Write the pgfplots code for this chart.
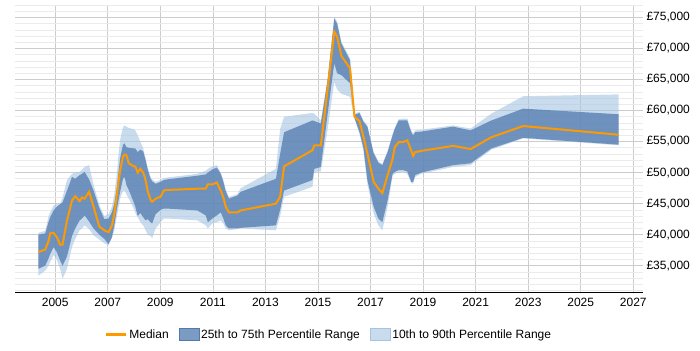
\documentclass[border=0pt]{standalone}
\usepackage{fontspec}
\setmainfont{Liberation Sans}
\usepackage{pgfplots}
\pgfplotsset{compat=1.18}
\usepackage{pgfplotstable}
\usepgfplotslibrary{fillbetween}
\definecolor{medc}{HTML}{FF9900}
\definecolor{darkb}{HTML}{4F7AAE}
\definecolor{lightb}{HTML}{A5C4E3}
\definecolor{majgrid}{HTML}{CCCCCC}
\definecolor{mingrid}{HTML}{EBEBEB}
\pgfplotstableread{
x p10 p25 med p75 p90
2004.36 33.4 34.5 37.2 40.0 40.3
2004.62 34.2 35.0 37.6 40.2 40.6
2004.75 35.0 36.2 39.0 42.1 43.0
2004.81 35.6 36.9 40.2 42.8 43.6
2004.94 36.7 38.0 40.3 43.9 44.7
2005.06 36.0 37.2 39.6 44.5 44.9
2005.19 34.5 35.8 38.4 44.9 45.0
2005.28 32.9 35.0 38.4 45.2 46.0
2005.45 34.5 36.5 42.3 47.1 48.8
2005.64 38.0 39.8 45.5 49.3 49.8
2005.76 39.3 41.0 46.2 49.0 50.0
2005.93 40.7 42.3 45.4 49.6 50.1
2006.02 41.0 42.6 46.0 49.8 50.5
2006.12 41.5 43.1 45.8 50.1 50.9
2006.29 40.9 42.1 46.9 48.9 51.2
2006.46 39.9 41.0 44.5 47.1 48.0
2006.68 39.2 40.0 41.3 44.3 44.8
2006.87 38.6 39.3 40.7 42.5 43.0
2007.03 38.3 38.5 40.4 42.6 43.3
2007.16 39.5 39.6 41.5 43.6 44.5
2007.25 40.7 41.5 43.4 45.0 46.5
2007.35 43.0 44.2 46.5 47.7 50.0
2007.42 44.5 45.8 48.8 50.5 53.5
2007.48 46.0 47.1 50.5 52.5 55.5
2007.58 47.0 49.0 52.6 54.5 57.3
2007.64 47.1 49.3 52.9 54.7 57.6
2007.71 46.5 48.0 52.8 54.1 57.4
2007.80 45.8 47.2 51.5 54.0 57.2
2007.99 44.2 45.2 51.0 53.9 57.0
2008.05 43.5 44.5 51.0 53.9 56.8
2008.14 42.8 43.0 50.0 53.3 56.0
2008.24 42.0 43.5 50.6 53.7 55.0
2008.35 41.5 42.8 50.0 53.4 53.9
2008.44 40.7 42.3 48.8 52.0 52.3
2008.52 40.0 42.5 47.0 50.5 50.8
2008.63 39.8 42.0 45.6 49.0 49.3
2008.69 39.4 41.8 45.3 48.6 48.9
2008.82 41.0 43.3 45.8 48.2 48.5
2009.01 42.0 44.0 46.1 48.5 48.8
2009.13 42.6 44.2 47.1 48.8 49.1
2009.26 42.6 44.2 47.2 48.9 49.2
2010.41 42.3 43.9 47.4 49.5 49.8
2010.73 41.5 43.1 47.4 49.7 50.3
2010.81 41.0 42.0 48.1 50.0 50.6
2010.98 41.8 42.6 48.1 50.5 51.0
2011.15 42.0 43.1 48.4 50.8 51.2
2011.30 42.3 43.6 47.1 49.8 50.0
2011.40 41.8 42.6 46.0 48.5 48.8
2011.49 41.0 41.5 44.5 47.0 47.3
2011.61 40.7 41.0 43.6 45.8 46.1
2011.93 40.9 41.0 43.6 46.3 46.5
2012.06 41.0 41.1 43.9 46.9 47.5
2013.40 40.7 41.5 45.0 49.0 50.6
2013.56 43.0 44.0 46.1 53.0 57.0
2013.71 46.1 47.1 51.0 56.5 59.0
2014.79 47.7 48.8 53.6 58.4 59.6
2014.86 50.1 50.6 54.4 58.3 59.5
2015.11 50.2 50.9 54.4 57.9 58.4
2015.37 57.0 59.5 63.6 65.0 65.3
2015.62 64.6 67.6 72.7 74.8 75.1
2015.73 63.4 66.0 71.9 74.0 74.3
2015.89 62.7 65.7 68.8 70.8 71.1
2016.22 62.2 64.4 66.8 68.1 68.4
2016.39 58.7 58.8 59.0 59.3 59.5
2016.58 56.3 56.5 58.3 59.6 59.8
2016.73 53.5 54.0 55.8 58.2 58.4
2016.88 48.2 48.8 53.1 57.4 57.6
2017.12 43.4 44.5 48.5 53.1 53.3
2017.30 41.5 42.6 47.4 51.6 51.8
2017.45 40.7 42.0 46.7 51.2 51.4
2017.65 44.5 45.5 49.6 53.3 53.5
2017.84 49.5 49.8 52.2 56.0 56.2
2017.92 49.8 50.1 54.1 57.0 57.2
2018.07 50.0 50.4 54.9 58.4 58.6
2018.23 50.1 50.4 54.9 58.4 58.7
2018.40 49.8 50.2 55.2 58.4 58.7
2018.55 48.3 48.5 53.5 56.5 56.8
2018.62 48.2 48.5 52.7 56.0 56.3
2018.70 49.3 49.6 53.3 56.5 56.8
2018.93 49.8 50.0 53.5 56.6 56.9
2020.14 50.9 51.2 54.3 57.4 57.6
2020.81 51.2 51.5 53.8 56.8 57.1
2021.60 53.7 53.9 55.7 58.4 59.5
2022.81 55.5 55.6 57.5 60.3 62.3
2026.44 54.4 54.5 56.1 59.4 62.6
}\data
\begin{document}
\begin{tikzpicture}[font=\fontsize{12}{14}\selectfont]
\begin{axis}[
  scale only axis, width=628pt, height=287pt,
  xmin=2003.47, xmax=2027.37, ymin=30.76, ymax=77,
  xtick={2005,2007,...,2027},
  ytick={35,40,...,75},
  minor ytick={31,32,...,77},
  grid=both,
  major grid style={majgrid, line width=0.6pt},
  minor grid style={mingrid, line width=0.6pt},
  axis line style={draw=none},
  major tick length=0pt, minor tick length=0pt,
  yticklabel pos=right,
  clip mode=individual,
  /pgf/number format/assume math mode=true,
  xticklabel style={/pgf/number format/1000 sep={}, yshift=-3pt},
  yticklabel={£\pgfmathprintnumber{\tick},000},
  legend style={at={(0.5,-0.148)}, anchor=center, draw=none, fill=none,
    legend columns=3, /tikz/every even column/.append style={column sep=8pt},
    font=\fontsize{12}{14}\selectfont},
  legend cell align=left,
]
\addlegendimage{legend image code/.code={\draw[medc, line width=2.5pt] (0pt,0pt) -- (20pt,0pt);}}
\addlegendentry{Median}
\addlegendimage{legend image code/.code={\fill[darkb, fill opacity=0.75] (0pt,-6pt) rectangle (20pt,6pt);}}
\addlegendentry{25th to 75th Percentile Range}
\addlegendimage{legend image code/.code={\fill[lightb, fill opacity=0.6] (0pt,-6pt) rectangle (20pt,6pt);}}
\addlegendentry{10th to 90th Percentile Range}

\addplot[draw=none, name path=p10, forget plot] table[x=x, y=p10] {\data};
\addplot[draw=none, name path=p25, forget plot] table[x=x, y=p25] {\data};
\addplot[draw=none, name path=p75, forget plot] table[x=x, y=p75] {\data};
\addplot[draw=none, name path=p90, forget plot] table[x=x, y=p90] {\data};
\addplot[fill=lightb, fill opacity=0.6, draw=none, forget plot] fill between[of=p90 and p10];
\addplot[fill=darkb, fill opacity=0.75, draw=none, forget plot] fill between[of=p75 and p25];
\addplot[medc, line width=2pt, forget plot] table[x=x, y=med] {\data};

\draw[black, line width=0.8pt] (rel axis cs:0,0) -- (rel axis cs:1,0);
\coordinate (SW) at (rel axis cs:0,0);
\coordinate (NE) at (rel axis cs:1,1);
\end{axis}
\pgfresetboundingbox
\path[use as bounding box] ([xshift=-15pt,yshift=-58pt]SW) rectangle ([xshift=57pt,yshift=5pt]NE);
\end{tikzpicture}
\end{document}
